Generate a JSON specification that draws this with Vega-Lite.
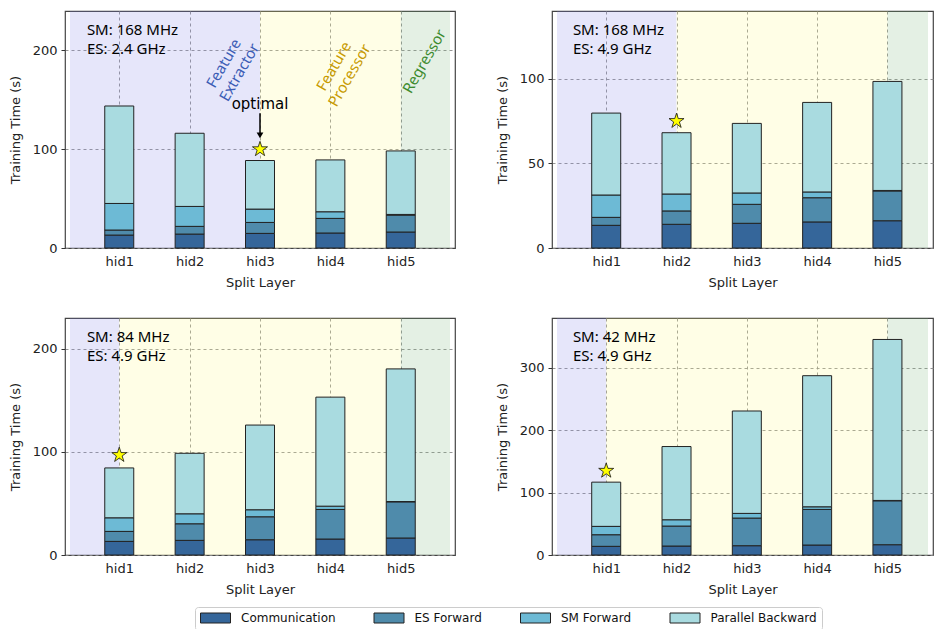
{
"$schema":"https://vega.github.io/schema/vega-lite/v6.json",
"background":"white",
"padding":{"left":8,"top":10,"right":0,"bottom":0},
"spacing":27,
"resolve":{"scale":{"x":"independent","y":"independent"}},
"config":{
 "view":{"stroke":"#444444","strokeWidth":1.2},
 "axis":{"labelFont":"DejaVu Sans","labelFontSize":13,"labelColor":"#222222","titleFont":"DejaVu Sans","titleFontSize":13,"titleFontWeight":"normal","titleColor":"#222222","grid":true,"gridColor":"#8a8a8a","gridDash":[3,3],"gridWidth":0.9,"domain":false,"tickColor":"#333333"},
 "axisX":{"ticks":false,"tickSize":0,"labelPadding":7,"titlePadding":8,"minExtent":20,"maxExtent":20},
 "axisY":{"tickSize":4,"labelPadding":4,"titlePadding":10,"minExtent":33,"maxExtent":33},
 "legend":{"labelFont":"DejaVu Sans","labelFontSize":12,"labelColor":"#111111","symbolType":"M-3,-1H3V1H-3Z","symbolSize":100,"symbolStrokeColor":"#222222","symbolStrokeWidth":1,"symbolOffset":9.5,"labelOffset":19.5,"columnPadding":35.5,"padding":5,"strokeColor":"#cccccc","cornerRadius":3}
},
"datasets":{
 "components":[
  {"component":"Communication","tier":1},
  {"component":"ES Forward","tier":2},
  {"component":"SM Forward","tier":3},
  {"component":"Parallel Backward","tier":4}
 ],
 "regions":[
  {"panel":"p1","region":"Feature Extractor","start":0.3,"end":3},
  {"panel":"p1","region":"Feature Processor","start":3,"end":5},
  {"panel":"p1","region":"Regressor","start":5,"end":5.7},
  {"panel":"p2","region":"Feature Extractor","start":0.3,"end":2},
  {"panel":"p2","region":"Feature Processor","start":2,"end":5},
  {"panel":"p2","region":"Regressor","start":5,"end":5.577},
  {"panel":"p3","region":"Feature Extractor","start":0.3,"end":1},
  {"panel":"p3","region":"Feature Processor","start":1,"end":5},
  {"panel":"p3","region":"Regressor","start":5,"end":5.7},
  {"panel":"p4","region":"Feature Extractor","start":0.3,"end":1},
  {"panel":"p4","region":"Feature Processor","start":1,"end":5},
  {"panel":"p4","region":"Regressor","start":5,"end":5.577}
 ],
 "bars":[
  {"panel":"p1","split":1,"component":"Communication","time":13.1},
  {"panel":"p1","split":1,"component":"ES Forward","time":5.1},
  {"panel":"p1","split":1,"component":"SM Forward","time":26.9},
  {"panel":"p1","split":1,"component":"Parallel Backward","time":98.7},
  {"panel":"p1","split":2,"component":"Communication","time":14.1},
  {"panel":"p1","split":2,"component":"ES Forward","time":7.8},
  {"panel":"p1","split":2,"component":"SM Forward","time":20.2},
  {"panel":"p1","split":2,"component":"Parallel Backward","time":74.1},
  {"panel":"p1","split":3,"component":"Communication","time":14.8},
  {"panel":"p1","split":3,"component":"ES Forward","time":11.1},
  {"panel":"p1","split":3,"component":"SM Forward","time":13.5},
  {"panel":"p1","split":3,"component":"Parallel Backward","time":49.2},
  {"panel":"p1","split":4,"component":"Communication","time":15.2},
  {"panel":"p1","split":4,"component":"ES Forward","time":14.8},
  {"panel":"p1","split":4,"component":"SM Forward","time":6.7},
  {"panel":"p1","split":4,"component":"Parallel Backward","time":52.5},
  {"panel":"p1","split":5,"component":"Communication","time":16.2},
  {"panel":"p1","split":5,"component":"ES Forward","time":17.1},
  {"panel":"p1","split":5,"component":"SM Forward","time":0.7},
  {"panel":"p1","split":5,"component":"Parallel Backward","time":64.3},
  {"panel":"p2","split":1,"component":"Communication","time":13.4},
  {"panel":"p2","split":1,"component":"ES Forward","time":4.7},
  {"panel":"p2","split":1,"component":"SM Forward","time":13.2},
  {"panel":"p2","split":1,"component":"Parallel Backward","time":48.4},
  {"panel":"p2","split":2,"component":"Communication","time":14.0},
  {"panel":"p2","split":2,"component":"ES Forward","time":7.9},
  {"panel":"p2","split":2,"component":"SM Forward","time":10.0},
  {"panel":"p2","split":2,"component":"Parallel Backward","time":36.2},
  {"panel":"p2","split":3,"component":"Communication","time":14.6},
  {"panel":"p2","split":3,"component":"ES Forward","time":11.2},
  {"panel":"p2","split":3,"component":"SM Forward","time":6.7},
  {"panel":"p2","split":3,"component":"Parallel Backward","time":41.1},
  {"panel":"p2","split":4,"component":"Communication","time":15.4},
  {"panel":"p2","split":4,"component":"ES Forward","time":14.3},
  {"panel":"p2","split":4,"component":"SM Forward","time":3.4},
  {"panel":"p2","split":4,"component":"Parallel Backward","time":52.9},
  {"panel":"p2","split":5,"component":"Communication","time":16.1},
  {"panel":"p2","split":5,"component":"ES Forward","time":17.6},
  {"panel":"p2","split":5,"component":"SM Forward","time":0.3},
  {"panel":"p2","split":5,"component":"Parallel Backward","time":64.4},
  {"panel":"p3","split":1,"component":"Communication","time":13.2},
  {"panel":"p3","split":1,"component":"ES Forward","time":9.7},
  {"panel":"p3","split":1,"component":"SM Forward","time":13.2},
  {"panel":"p3","split":1,"component":"Parallel Backward","time":48.4},
  {"panel":"p3","split":2,"component":"Communication","time":14.2},
  {"panel":"p3","split":2,"component":"ES Forward","time":16.1},
  {"panel":"p3","split":2,"component":"SM Forward","time":9.7},
  {"panel":"p3","split":2,"component":"Parallel Backward","time":58.7},
  {"panel":"p3","split":3,"component":"Communication","time":14.8},
  {"panel":"p3","split":3,"component":"ES Forward","time":22.3},
  {"panel":"p3","split":3,"component":"SM Forward","time":6.8},
  {"panel":"p3","split":3,"component":"Parallel Backward","time":82.2},
  {"panel":"p3","split":4,"component":"Communication","time":15.5},
  {"panel":"p3","split":4,"component":"ES Forward","time":28.7},
  {"panel":"p3","split":4,"component":"SM Forward","time":3.2},
  {"panel":"p3","split":4,"component":"Parallel Backward","time":105.8},
  {"panel":"p3","split":5,"component":"Communication","time":16.5},
  {"panel":"p3","split":5,"component":"ES Forward","time":35.1},
  {"panel":"p3","split":5,"component":"SM Forward","time":0.3},
  {"panel":"p3","split":5,"component":"Parallel Backward","time":128.7},
  {"panel":"p4","split":1,"component":"Communication","time":13.9},
  {"panel":"p4","split":1,"component":"ES Forward","time":18.6},
  {"panel":"p4","split":1,"component":"SM Forward","time":13.4},
  {"panel":"p4","split":1,"component":"Parallel Backward","time":70.9},
  {"panel":"p4","split":2,"component":"Communication","time":14.4},
  {"panel":"p4","split":2,"component":"ES Forward","time":32.0},
  {"panel":"p4","split":2,"component":"SM Forward","time":10.1},
  {"panel":"p4","split":2,"component":"Parallel Backward","time":117.4},
  {"panel":"p4","split":3,"component":"Communication","time":14.9},
  {"panel":"p4","split":3,"component":"ES Forward","time":44.3},
  {"panel":"p4","split":3,"component":"SM Forward","time":7.5},
  {"panel":"p4","split":3,"component":"Parallel Backward","time":164.2},
  {"panel":"p4","split":4,"component":"Communication","time":16.0},
  {"panel":"p4","split":4,"component":"ES Forward","time":57.1},
  {"panel":"p4","split":4,"component":"SM Forward","time":4.2},
  {"panel":"p4","split":4,"component":"Parallel Backward","time":210.2},
  {"panel":"p4","split":5,"component":"Communication","time":16.5},
  {"panel":"p4","split":5,"component":"ES Forward","time":70.4},
  {"panel":"p4","split":5,"component":"SM Forward","time":0.6},
  {"panel":"p4","split":5,"component":"Parallel Backward","time":258.1}
 ],
 "stars":[
  {"panel":"p1","split":3,"time":100},
  {"panel":"p2","split":2,"time":75},
  {"panel":"p3","split":1,"time":97},
  {"panel":"p4","split":1,"time":135}
 ],
 "info":[
  {"panel":"p1","split":0.54,"time":215.4,"text":["SM: 168 MHz","ES: 2.4 GHz"]},
  {"panel":"p2","split":0.526,"time":125.9,"text":["SM: 168 MHz","ES: 4.9 GHz"]},
  {"panel":"p3","split":0.54,"time":206.8,"text":["SM: 84 MHz","ES: 4.9 GHz"]},
  {"panel":"p4","split":0.526,"time":341,"text":["SM: 42 MHz","ES: 4.9 GHz"]}
 ],
 "notes":[
  {"region":"Feature Extractor","split":2.485,"time":187,"text":["Feature","Extractor"]},
  {"region":"Feature Processor","split":4.05,"time":184,"text":["Feature","Processor"]},
  {"region":"Regressor","split":5.335,"time":189,"text":"Regressor"},
  {"region":"optimal","split":3,"time":141,"text":"optimal"}
 ],
 "pointer":[{"split":3,"from":136.5,"to":116.5,"tip":114}]
},
"vconcat":[
 {"spacing":39,"resolve":{"scale":{"x":"independent","y":"independent"}},"hconcat":[
  {"width":390,"height":237,"layer":[
   {"data":{"name":"regions"},"transform":[{"filter":"datum.panel == 'p1'"}],"mark":{"type":"rect","opacity":0.2},
    "encoding":{"x":{"field":"start","type":"quantitative","title":"Split Layer","scale":{"domain":[0.3,5.7],"nice":false,"zero":false},"axis":{"values":[1,2,3,4,5],"labelExpr":"'hid' + datum.value"}},"x2":{"field":"end"},
     "fill":{"field":"region","type":"nominal","scale":{"domain":["Feature Extractor","Feature Processor","Regressor"],"range":["#8282e6","#fffa82","#78b478"]},"legend":null}}},
   {"data":{"name":"bars"},"transform":[{"filter":"datum.panel == 'p1'"},{"lookup":"component","from":{"data":{"name":"components"},"key":"component","fields":["tier"]}}],"mark":{"type":"bar","width":29,"stroke":"#222222","strokeWidth":1},
    "encoding":{"x":{"field":"split","type":"quantitative","title":"Split Layer"},"y":{"field":"time","type":"quantitative","stack":"zero","title":"Training Time (s)","scale":{"domain":[0,240],"nice":false},"axis":{"values":[0,100,200]}},
     "order":{"field":"tier","type":"quantitative"},
     "color":{"field":"component","type":"nominal","scale":{"domain":["Communication","ES Forward","SM Forward","Parallel Backward"],"range":["#35669a","#4f8bab","#6dbad5","#a9dbe0"]},"legend":{"title":null,"orient":"none","legendX":130,"legendY":596,"direction":"horizontal","fillColor":"white"}}}},
   {"data":{"name":"stars"},"transform":[{"filter":"datum.panel == 'p1'"}],"mark":{"type":"point","shape":"M0,-1L0.2245,-0.309L0.951,-0.309L0.363,0.118L0.588,0.809L0,0.382L-0.588,0.809L-0.363,0.118L-0.951,-0.309L-0.2245,-0.309Z","filled":true,"fill":"#ffff00","stroke":"#111111","strokeWidth":0.8,"size":250,"opacity":1},
    "encoding":{"x":{"field":"split","type":"quantitative","title":"Split Layer"},"y":{"field":"time","type":"quantitative","title":"Training Time (s)"}}},
   {"data":{"name":"info"},"transform":[{"filter":"datum.panel == 'p1'"}],"mark":{"type":"text","align":"left","baseline":"alphabetic","font":"Noto Sans","fontSize":15,"lineHeight":19,"color":"#000000"},
    "encoding":{"x":{"field":"split","type":"quantitative","title":"Split Layer"},"y":{"field":"time","type":"quantitative","title":"Training Time (s)"},"text":{"field":"text"}}},
   {"data":{"name":"notes"},"transform":[{"filter":"datum.region == 'Feature Extractor'"}],"mark":{"type":"text","angle":300,"align":"center","baseline":"middle","font":"Noto Sans","fontSize":15,"lineHeight":18,"color":"#3b5cb5"},
    "encoding":{"x":{"field":"split","type":"quantitative","title":"Split Layer"},"y":{"field":"time","type":"quantitative","title":"Training Time (s)"},"text":{"field":"text"}}},
   {"data":{"name":"notes"},"transform":[{"filter":"datum.region == 'Feature Processor'"}],"mark":{"type":"text","angle":300,"align":"center","baseline":"middle","font":"Noto Sans","fontSize":15,"lineHeight":18,"color":"#c79a00"},
    "encoding":{"x":{"field":"split","type":"quantitative","title":"Split Layer"},"y":{"field":"time","type":"quantitative","title":"Training Time (s)"},"text":{"field":"text"}}},
   {"data":{"name":"notes"},"transform":[{"filter":"datum.region == 'Regressor'"}],"mark":{"type":"text","angle":300,"align":"center","baseline":"middle","font":"Noto Sans","fontSize":15,"lineHeight":18,"color":"#3d8b2f"},
    "encoding":{"x":{"field":"split","type":"quantitative","title":"Split Layer"},"y":{"field":"time","type":"quantitative","title":"Training Time (s)"},"text":{"field":"text"}}},
   {"data":{"name":"notes"},"transform":[{"filter":"datum.region == 'optimal'"}],"mark":{"type":"text","align":"center","baseline":"alphabetic","font":"DejaVu Sans","fontSize":15,"color":"#000000"},
    "encoding":{"x":{"field":"split","type":"quantitative","title":"Split Layer"},"y":{"field":"time","type":"quantitative","title":"Training Time (s)"},"text":{"field":"text"}}},
   {"data":{"name":"pointer"},"mark":{"type":"rule","color":"#000000","strokeWidth":1.5},
    "encoding":{"x":{"field":"split","type":"quantitative","title":"Split Layer"},"y":{"field":"from","type":"quantitative","title":"Training Time (s)"},"y2":{"field":"to"}}},
   {"data":{"name":"pointer"},"mark":{"type":"point","shape":"triangle-down","filled":true,"color":"#000000","size":45,"opacity":1},
    "encoding":{"x":{"field":"split","type":"quantitative","title":"Split Layer"},"y":{"field":"tip","type":"quantitative","title":"Training Time (s)"}}}
  ]},
  {"width":381,"height":237,"layer":[
   {"data":{"name":"regions"},"transform":[{"filter":"datum.panel == 'p2'"}],"mark":{"type":"rect","opacity":0.2},
    "encoding":{"x":{"field":"start","type":"quantitative","title":"Split Layer","scale":{"domain":[0.3,5.577],"nice":false,"zero":false},"axis":{"values":[1,2,3,4,5],"labelExpr":"'hid' + datum.value"}},"x2":{"field":"end"},
     "fill":{"field":"region","type":"nominal","scale":{"domain":["Feature Extractor","Feature Processor","Regressor"],"range":["#8282e6","#fffa82","#78b478"]},"legend":null}}},
   {"data":{"name":"bars"},"transform":[{"filter":"datum.panel == 'p2'"},{"lookup":"component","from":{"data":{"name":"components"},"key":"component","fields":["tier"]}}],"mark":{"type":"bar","width":29,"stroke":"#222222","strokeWidth":1},
    "encoding":{"x":{"field":"split","type":"quantitative","title":"Split Layer"},"y":{"field":"time","type":"quantitative","stack":"zero","title":"Training Time (s)","scale":{"domain":[0,140],"nice":false},"axis":{"values":[0,50,100]}},
     "order":{"field":"tier","type":"quantitative"},
     "color":{"field":"component","type":"nominal","scale":{"domain":["Communication","ES Forward","SM Forward","Parallel Backward"],"range":["#35669a","#4f8bab","#6dbad5","#a9dbe0"]},"legend":{"title":null,"orient":"none","legendX":130,"legendY":596,"direction":"horizontal","fillColor":"white"}}}},
   {"data":{"name":"stars"},"transform":[{"filter":"datum.panel == 'p2'"}],"mark":{"type":"point","shape":"M0,-1L0.2245,-0.309L0.951,-0.309L0.363,0.118L0.588,0.809L0,0.382L-0.588,0.809L-0.363,0.118L-0.951,-0.309L-0.2245,-0.309Z","filled":true,"fill":"#ffff00","stroke":"#111111","strokeWidth":0.8,"size":250,"opacity":1},
    "encoding":{"x":{"field":"split","type":"quantitative","title":"Split Layer"},"y":{"field":"time","type":"quantitative","title":"Training Time (s)"}}},
   {"data":{"name":"info"},"transform":[{"filter":"datum.panel == 'p2'"}],"mark":{"type":"text","align":"left","baseline":"alphabetic","font":"Noto Sans","fontSize":15,"lineHeight":19,"color":"#000000"},
    "encoding":{"x":{"field":"split","type":"quantitative","title":"Split Layer"},"y":{"field":"time","type":"quantitative","title":"Training Time (s)"},"text":{"field":"text"}}}
  ]}
 ]},
 {"spacing":39,"resolve":{"scale":{"x":"independent","y":"independent"}},"hconcat":[
  {"width":390,"height":237,"layer":[
   {"data":{"name":"regions"},"transform":[{"filter":"datum.panel == 'p3'"}],"mark":{"type":"rect","opacity":0.2},
    "encoding":{"x":{"field":"start","type":"quantitative","title":"Split Layer","scale":{"domain":[0.3,5.7],"nice":false,"zero":false},"axis":{"values":[1,2,3,4,5],"labelExpr":"'hid' + datum.value"}},"x2":{"field":"end"},
     "fill":{"field":"region","type":"nominal","scale":{"domain":["Feature Extractor","Feature Processor","Regressor"],"range":["#8282e6","#fffa82","#78b478"]},"legend":null}}},
   {"data":{"name":"bars"},"transform":[{"filter":"datum.panel == 'p3'"},{"lookup":"component","from":{"data":{"name":"components"},"key":"component","fields":["tier"]}}],"mark":{"type":"bar","width":29,"stroke":"#222222","strokeWidth":1},
    "encoding":{"x":{"field":"split","type":"quantitative","title":"Split Layer"},"y":{"field":"time","type":"quantitative","stack":"zero","title":"Training Time (s)","scale":{"domain":[0,230],"nice":false},"axis":{"values":[0,100,200]}},
     "order":{"field":"tier","type":"quantitative"},
     "color":{"field":"component","type":"nominal","scale":{"domain":["Communication","ES Forward","SM Forward","Parallel Backward"],"range":["#35669a","#4f8bab","#6dbad5","#a9dbe0"]},"legend":{"title":null,"orient":"none","legendX":130,"legendY":596,"direction":"horizontal","fillColor":"white"}}}},
   {"data":{"name":"stars"},"transform":[{"filter":"datum.panel == 'p3'"}],"mark":{"type":"point","shape":"M0,-1L0.2245,-0.309L0.951,-0.309L0.363,0.118L0.588,0.809L0,0.382L-0.588,0.809L-0.363,0.118L-0.951,-0.309L-0.2245,-0.309Z","filled":true,"fill":"#ffff00","stroke":"#111111","strokeWidth":0.8,"size":250,"opacity":1},
    "encoding":{"x":{"field":"split","type":"quantitative","title":"Split Layer"},"y":{"field":"time","type":"quantitative","title":"Training Time (s)"}}},
   {"data":{"name":"info"},"transform":[{"filter":"datum.panel == 'p3'"}],"mark":{"type":"text","align":"left","baseline":"alphabetic","font":"Noto Sans","fontSize":15,"lineHeight":19,"color":"#000000"},
    "encoding":{"x":{"field":"split","type":"quantitative","title":"Split Layer"},"y":{"field":"time","type":"quantitative","title":"Training Time (s)"},"text":{"field":"text"}}}
  ]},
  {"width":381,"height":237,"layer":[
   {"data":{"name":"regions"},"transform":[{"filter":"datum.panel == 'p4'"}],"mark":{"type":"rect","opacity":0.2},
    "encoding":{"x":{"field":"start","type":"quantitative","title":"Split Layer","scale":{"domain":[0.3,5.577],"nice":false,"zero":false},"axis":{"values":[1,2,3,4,5],"labelExpr":"'hid' + datum.value"}},"x2":{"field":"end"},
     "fill":{"field":"region","type":"nominal","scale":{"domain":["Feature Extractor","Feature Processor","Regressor"],"range":["#8282e6","#fffa82","#78b478"]},"legend":null}}},
   {"data":{"name":"bars"},"transform":[{"filter":"datum.panel == 'p4'"},{"lookup":"component","from":{"data":{"name":"components"},"key":"component","fields":["tier"]}}],"mark":{"type":"bar","width":29,"stroke":"#222222","strokeWidth":1},
    "encoding":{"x":{"field":"split","type":"quantitative","title":"Split Layer"},"y":{"field":"time","type":"quantitative","stack":"zero","title":"Training Time (s)","scale":{"domain":[0,380],"nice":false},"axis":{"values":[0,100,200,300]}},
     "order":{"field":"tier","type":"quantitative"},
     "color":{"field":"component","type":"nominal","scale":{"domain":["Communication","ES Forward","SM Forward","Parallel Backward"],"range":["#35669a","#4f8bab","#6dbad5","#a9dbe0"]},"legend":{"title":null,"orient":"none","legendX":130,"legendY":596,"direction":"horizontal","fillColor":"white"}}}},
   {"data":{"name":"stars"},"transform":[{"filter":"datum.panel == 'p4'"}],"mark":{"type":"point","shape":"M0,-1L0.2245,-0.309L0.951,-0.309L0.363,0.118L0.588,0.809L0,0.382L-0.588,0.809L-0.363,0.118L-0.951,-0.309L-0.2245,-0.309Z","filled":true,"fill":"#ffff00","stroke":"#111111","strokeWidth":0.8,"size":250,"opacity":1},
    "encoding":{"x":{"field":"split","type":"quantitative","title":"Split Layer"},"y":{"field":"time","type":"quantitative","title":"Training Time (s)"}}},
   {"data":{"name":"info"},"transform":[{"filter":"datum.panel == 'p4'"}],"mark":{"type":"text","align":"left","baseline":"alphabetic","font":"Noto Sans","fontSize":15,"lineHeight":19,"color":"#000000"},
    "encoding":{"x":{"field":"split","type":"quantitative","title":"Split Layer"},"y":{"field":"time","type":"quantitative","title":"Training Time (s)"},"text":{"field":"text"}}}
  ]}
 ]}
]
}
